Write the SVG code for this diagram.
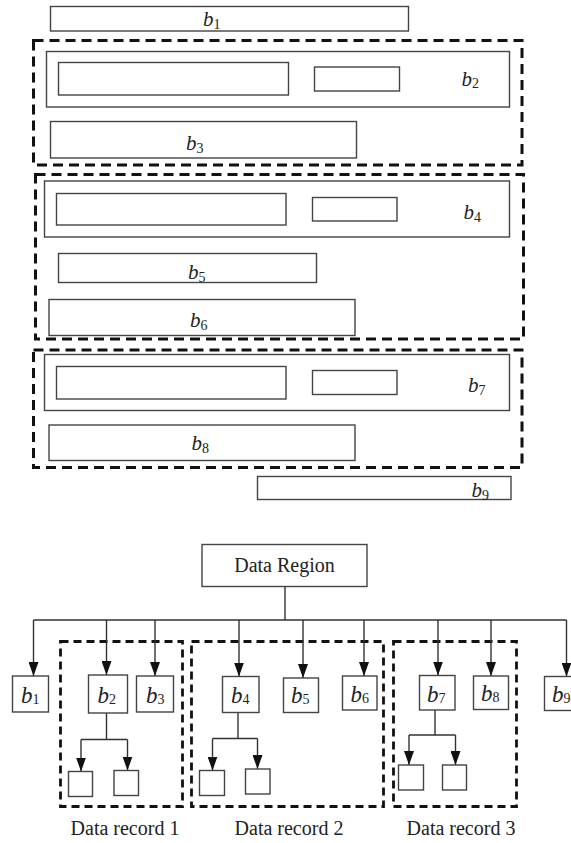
<svg xmlns="http://www.w3.org/2000/svg" width="571" height="843" viewBox="0 0 571 843">
<style>
.box{fill:#fff;stroke:#444;stroke-width:1.4}
.dash{fill:none;stroke:#111;stroke-width:3;stroke-dasharray:10,6}
.rdash{fill:none;stroke:#111;stroke-width:2.8;stroke-dasharray:8,5}
.ln{fill:none;stroke:#333;stroke-width:1.4}
.arr{fill:none;stroke:#333;stroke-width:1.4;marker-end:url(#ah)}
.bt{font-family:"Liberation Serif","Times New Roman",serif;font-style:italic;font-size:21px;fill:#222}
.bb{font-family:"Liberation Serif","Times New Roman",serif;font-style:italic;font-size:23px;fill:#222}
.sub{font-style:normal;font-size:14px}
.lab{font-family:"Liberation Serif","Times New Roman",serif;font-size:20px;fill:#222;text-anchor:middle}
</style>
<defs>
<marker id="ah" markerUnits="userSpaceOnUse" markerWidth="14" markerHeight="10" refX="14" refY="5" orient="auto">
<path d="M0,0 L14,5 L0,10 z" fill="#111"/>
</marker>
</defs>
<rect width="571" height="843" fill="#fff"/>

<!-- Top layout -->
<g id="top-b1">
<rect class="box" x="50.5" y="6.5" width="358" height="24.5"/>
<text class="bt" x="203" y="26">b<tspan class="sub" dy="3">1</tspan></text>
</g>
<g id="top-record1">
<rect class="dash" x="33.5" y="40.5" width="488.5" height="124.5"/>
<g id="top-b2">
<rect class="box" x="46.5" y="51.5" width="463" height="55.5"/>
<rect class="box" x="58.5" y="62.5" width="230" height="32.5"/>
<rect class="box" x="314.5" y="67" width="85" height="24"/>
<text class="bt" x="461.5" y="86">b<tspan class="sub" dy="2">2</tspan></text>
</g>
<g id="top-b3">
<rect class="box" x="50.5" y="121.5" width="306" height="36.5"/>
<text class="bt" x="186" y="149.5">b<tspan class="sub" dy="3">3</tspan></text>
</g>
</g>
<g id="top-record2">
<rect class="dash" x="35.5" y="174.5" width="488" height="164.5"/>
<g id="top-b4">
<rect class="box" x="44.5" y="181" width="465" height="56"/>
<rect class="box" x="56.5" y="193.5" width="229.5" height="31.5"/>
<rect class="box" x="312.5" y="197.5" width="84.5" height="23.5"/>
<text class="bt" x="463.5" y="218.5">b<tspan class="sub" dy="3">4</tspan></text>
</g>
<g id="top-b5">
<rect class="box" x="58.5" y="253.5" width="258" height="29"/>
<text class="bt" x="188" y="278.5">b<tspan class="sub" dy="3">5</tspan></text>
</g>
<g id="top-b6">
<rect class="box" x="49" y="299.5" width="306" height="36"/>
<text class="bt" x="190" y="327">b<tspan class="sub" dy="3">6</tspan></text>
</g>
</g>
<g id="top-record3">
<rect class="dash" x="33.5" y="350" width="488.5" height="117.5"/>
<g id="top-b7">
<rect class="box" x="44.5" y="354.5" width="465" height="56"/>
<rect class="box" x="56.5" y="366.5" width="229.5" height="32.5"/>
<rect class="box" x="312.5" y="370.5" width="84.5" height="24"/>
<text class="bt" x="468" y="392">b<tspan class="sub" dy="3">7</tspan></text>
</g>
<g id="top-b8">
<rect class="box" x="49" y="425" width="306" height="35.5"/>
<text class="bt" x="191.5" y="450">b<tspan class="sub" dy="3">8</tspan></text>
</g>
</g>
<g id="top-b9">
<rect class="box" x="257.5" y="476.5" width="253.5" height="23"/>
<text class="bt" x="471.5" y="497">b<tspan class="sub" dy="3">9</tspan></text>
</g>

<!-- Tree -->
<g id="records">
<rect id="record1" class="rdash" x="60.5" y="641.5" width="122" height="165"/>
<rect id="record2" class="rdash" x="191.5" y="641.5" width="192" height="165"/>
<rect id="record3" class="rdash" x="393.5" y="641.5" width="123" height="165"/>
</g>

<g id="connectors">
<path class="ln" d="M285,586.5 V620 M33.5,620 H566.5"/>
<path class="arr" d="M33.5,620 V676"/>
<path class="arr" d="M106.5,620 V675"/>
<path class="arr" d="M155,620 V676"/>
<path class="arr" d="M239,620 V676.5"/>
<path class="arr" d="M303,620 V678"/>
<path class="arr" d="M364,620 V676"/>
<path class="arr" d="M438,620 V675.5"/>
<path class="arr" d="M491,620 V676"/>
<path class="arr" d="M566.5,620 V676.5"/>
<path class="ln" d="M106.5,713 V739.5 M81,739.5 H127.5"/>
<path class="arr" d="M81,739.5 V771.5"/>
<path class="arr" d="M127.5,739.5 V770.5"/>
<path class="ln" d="M238,712.5 V738.5 M212.5,738.5 H257.5"/>
<path class="arr" d="M212.5,738.5 V770.5"/>
<path class="arr" d="M257.5,738.5 V769"/>
<path class="ln" d="M435,710 V735 M409,735 H455.5"/>
<path class="arr" d="M409,735 V765"/>
<path class="arr" d="M455.5,735 V765"/>
</g>

<g id="data-region">
<rect class="box" x="202" y="544.5" width="165" height="42"/>
<text class="lab" x="284.5" y="572">Data Region</text>
</g>

<g id="n-b1"><rect class="box" x="12.5" y="676" width="36" height="36"/><text class="bb" x="21" y="703">b<tspan class="sub" dy="1">1</tspan></text></g>
<g id="n-b2"><rect class="box" x="88.5" y="675" width="39" height="38"/><text class="bb" x="97.5" y="703">b<tspan class="sub" dy="1">2</tspan></text></g>
<g id="n-b3"><rect class="box" x="136.5" y="676" width="37" height="36"/><text class="bb" x="146" y="703">b<tspan class="sub" dy="1">3</tspan></text></g>
<g id="n-b4"><rect class="box" x="222.5" y="676.5" width="36.5" height="36"/><text class="bb" x="231" y="703">b<tspan class="sub" dy="1">4</tspan></text></g>
<g id="n-b5"><rect class="box" x="283.5" y="678" width="35" height="34.5"/><text class="bb" x="291" y="703">b<tspan class="sub" dy="1">5</tspan></text></g>
<g id="n-b6"><rect class="box" x="342.5" y="676" width="34.5" height="34"/><text class="bb" x="350.5" y="702">b<tspan class="sub" dy="1">6</tspan></text></g>
<g id="n-b7"><rect class="box" x="419.5" y="675.5" width="35.5" height="34.5"/><text class="bb" x="427" y="702">b<tspan class="sub" dy="1">7</tspan></text></g>
<g id="n-b8"><rect class="box" x="473.5" y="676" width="35" height="33.5"/><text class="bb" x="481" y="701">b<tspan class="sub" dy="1">8</tspan></text></g>
<g id="n-b9"><rect class="box" x="544.5" y="676.5" width="40" height="34"/><text class="bb" x="552" y="702">b<tspan class="sub" dy="1">9</tspan></text></g>

<g id="n-b2-c1"><rect class="box" x="68.5" y="771.5" width="24" height="25"/></g>
<g id="n-b2-c2"><rect class="box" x="114" y="770.5" width="24.5" height="25"/></g>
<g id="n-b4-c1"><rect class="box" x="199.5" y="770.5" width="25" height="25"/></g>
<g id="n-b4-c2"><rect class="box" x="245.5" y="769" width="24.5" height="25"/></g>
<g id="n-b7-c1"><rect class="box" x="398.5" y="765" width="25" height="25"/></g>
<g id="n-b7-c2"><rect class="box" x="442.5" y="765" width="24" height="25"/></g>

<g id="labels">
<text class="lab" x="125" y="835">Data record 1</text>
<text class="lab" x="289" y="835">Data record 2</text>
<text class="lab" x="461" y="835">Data record 3</text>
</g>
</svg>
